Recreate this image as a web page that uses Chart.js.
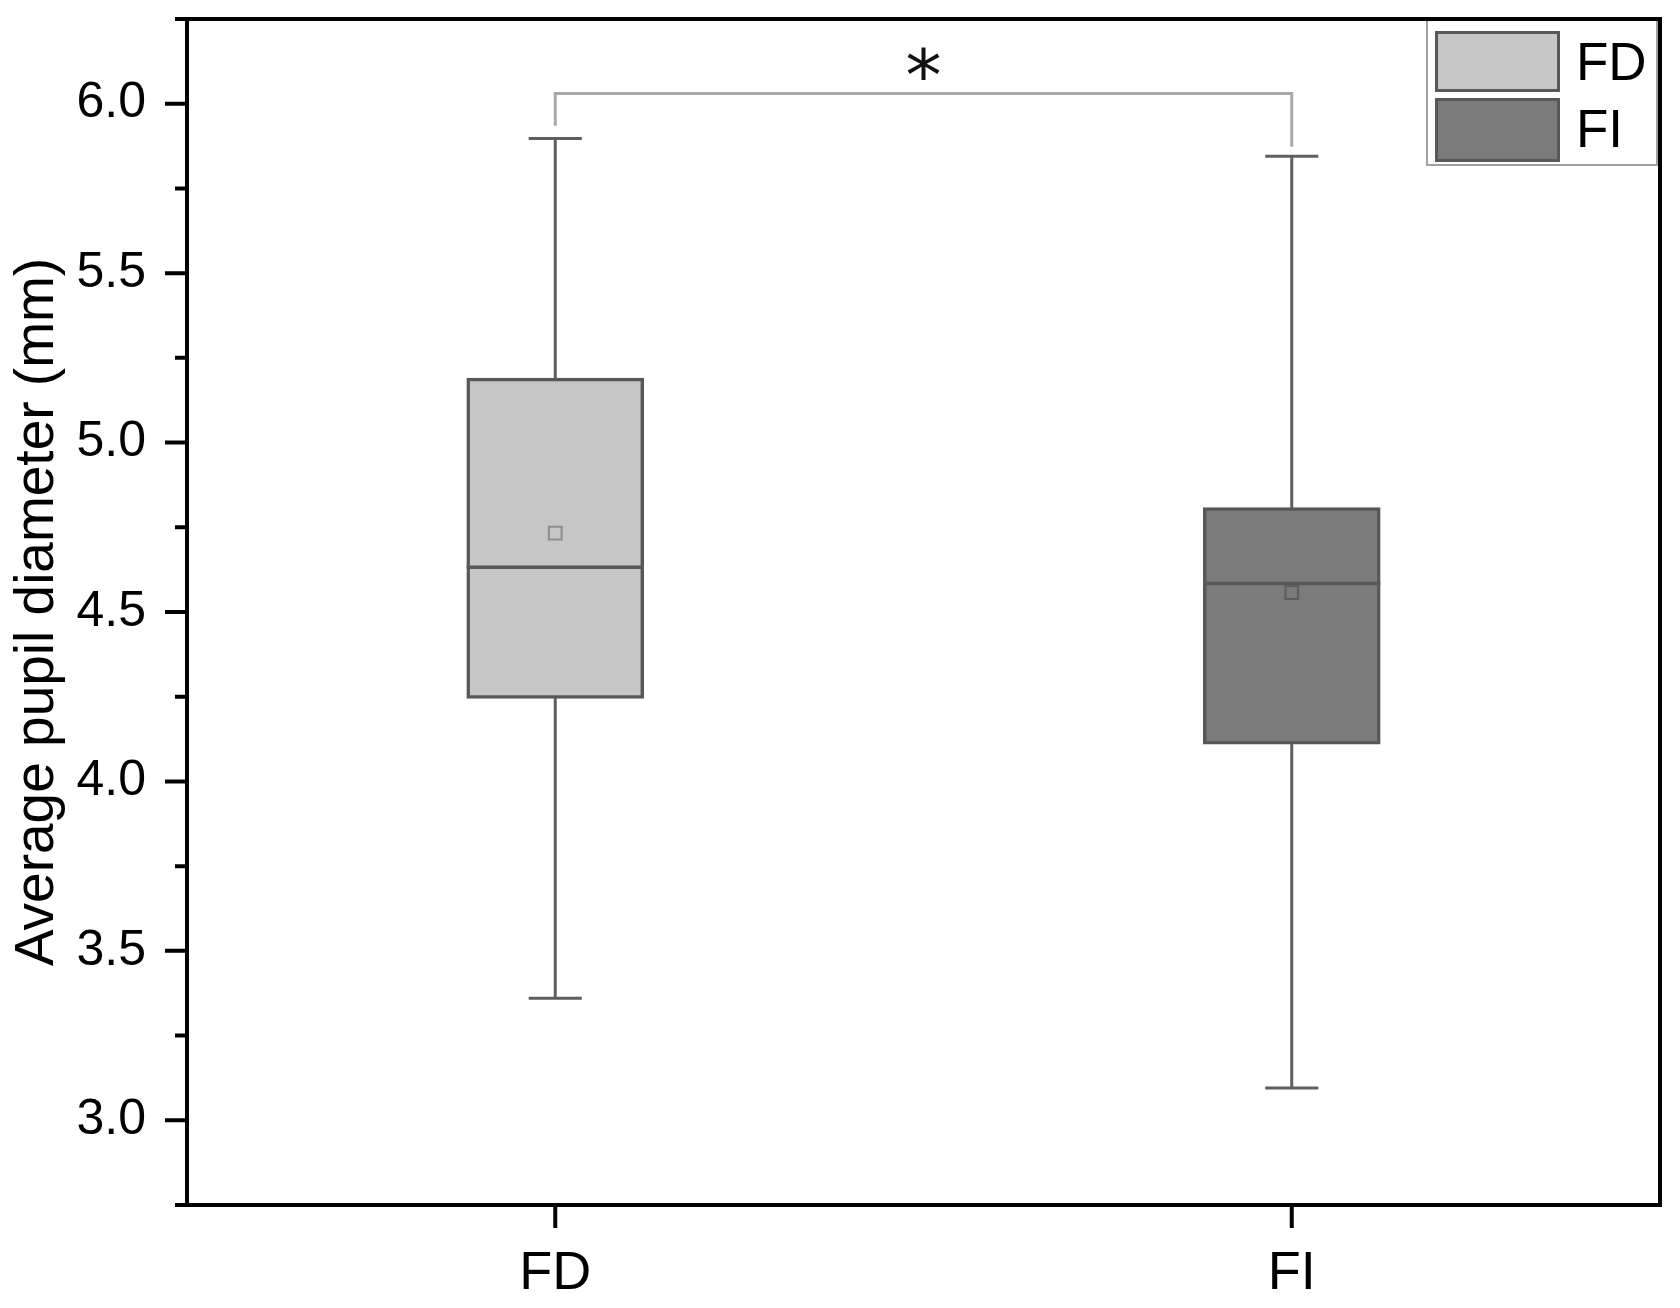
<!DOCTYPE html>
<html>
<head>
<meta charset="utf-8">
<script src="https://cdn.jsdelivr.net/npm/chart.js@4.4.1/dist/chart.umd.min.js"></script>
<style>
html,body{margin:0;padding:0;background:#fff;}
#wrap{width:1680px;height:1308px;position:relative;}
</style>
</head>
<body>
<div id="wrap"><canvas id="c" width="1680" height="1308"></canvas></div>
<script>
// ---- data ----
const categories = ['FD', 'FI'];
const seriesNames = ['FD', 'FI'];
const whiskerMin = [3.36, 3.095];
const q1 = [4.245, 4.11];
const median = [4.632, 4.584];
const q3 = [5.19, 4.808];
const whiskerMax = [5.897, 5.845];
const mean = [4.733, 4.557];
const yTickLabels = ['3.0', '3.5', '4.0', '4.5', '5.0', '5.5', '6.0'];
const yMin = 2.75;
const yMax = 6.25;
const yStep = 0.25;
const sigLabel = '*';
const sigBracketTop = 6.03;
const sigBracketEnds = [5.935, 5.873];

// ---- styles ----
const FONT = "'Liberation Sans', Arial, sans-serif";
const fills = ['#c6c6c6', '#7b7b7b'];
const edge = '#585858';
const whiskerColor = '#5f5f5f';
const meanColors = ['#8e8e8e', '#5c5c5c'];

const boxExtras = {
  id: 'boxExtras',
  beforeDatasetsDraw(chart) {
    const {ctx, scales: {x, y}} = chart;
    ctx.save();
    ctx.strokeStyle = whiskerColor;
    ctx.lineWidth = 3;
    categories.forEach((c, i) => {
      const px = x.getPixelForValue(i);
      const el = chart.getDatasetMeta(i).data[i];
      const capHalf = el ? el.width * 0.15 : 27;
      const yLo = y.getPixelForValue(whiskerMin[i]);
      const yHi = y.getPixelForValue(whiskerMax[i]);
      ctx.beginPath();
      ctx.moveTo(px, yLo); ctx.lineTo(px, yHi);
      ctx.moveTo(px - capHalf, yLo); ctx.lineTo(px + capHalf, yLo);
      ctx.moveTo(px - capHalf, yHi); ctx.lineTo(px + capHalf, yHi);
      ctx.stroke();
    });
    ctx.restore();
  },
  afterDatasetDraw(chart, args) {
    const i = args.index;
    if (i > 1) return;
    const el = args.meta.data[i];
    if (!el) return;
    const {ctx, scales: {y}} = chart;
    const py = y.getPixelForValue(median[i]);
    ctx.save();
    ctx.strokeStyle = edge;
    ctx.lineWidth = 3.5;
    ctx.beginPath();
    ctx.moveTo(el.x - el.width / 2, py);
    ctx.lineTo(el.x + el.width / 2, py);
    ctx.stroke();
    ctx.restore();
  },
  afterDraw(chart) {
    const {ctx, chartArea: a, scales: {x, y}} = chart;
    ctx.save();
    // significance bracket
    const x0 = x.getPixelForValue(0), x1 = x.getPixelForValue(1);
    const yt = y.getPixelForValue(sigBracketTop);
    ctx.strokeStyle = '#a9a9a9';
    ctx.lineWidth = 3;
    ctx.beginPath();
    ctx.moveTo(x0, y.getPixelForValue(sigBracketEnds[0]));
    ctx.lineTo(x0, yt);
    ctx.lineTo(x1, yt);
    ctx.lineTo(x1, y.getPixelForValue(sigBracketEnds[1]));
    ctx.stroke();
    ctx.fillStyle = '#111';
    ctx.font = "72px 'DejaVu Sans'";
    ctx.textAlign = 'center';
    ctx.textBaseline = 'alphabetic';
    ctx.fillText(sigLabel, (x0 + x1) / 2, yt + 6);

    // legend
    const lg = {l: 1427, t: 20, r: 1657, b: 165};
    ctx.fillStyle = '#fff';
    ctx.fillRect(lg.l, lg.t, lg.r - lg.l, lg.b - lg.t);
    ctx.strokeStyle = '#a0a0a0';
    ctx.lineWidth = 2;
    ctx.strokeRect(lg.l, lg.t, lg.r - lg.l, lg.b - lg.t);
    const sw = [[31, 92, 80], [98, 162, 147]];
    chart.data.datasets.slice(0, 2).forEach((ds, k) => {
      ctx.fillStyle = ds.backgroundColor;
      ctx.fillRect(1435, sw[k][0], 125, sw[k][1] - sw[k][0]);
      ctx.strokeStyle = ds.borderColor;
      ctx.lineWidth = 3;
      ctx.strokeRect(1435 + 1.5, sw[k][0] + 1.5, 122, sw[k][1] - sw[k][0] - 3);
      ctx.fillStyle = '#000';
      ctx.font = '53px ' + FONT;
      ctx.textAlign = 'left';
      ctx.textBaseline = 'alphabetic';
      ctx.fillText(ds.label, 1576, sw[k][2]);
    });

    // frame
    ctx.strokeStyle = '#000';
    ctx.lineWidth = 4;
    ctx.strokeRect(a.left, a.top, a.right - a.left, a.bottom - a.top);
    // y ticks
    ctx.beginPath();
    y.ticks.forEach(t => {
      const py = y.getPixelForValue(t.value);
      const major = yTickLabels.some(s => Math.abs(parseFloat(s) - t.value) < 1e-6);
      const len = major ? 22 : 12;
      ctx.moveTo(a.left - len, py); ctx.lineTo(a.left, py);
    });
    categories.forEach((c, i) => {
      const px = x.getPixelForValue(i);
      ctx.moveTo(px, a.bottom); ctx.lineTo(px, a.bottom + 23);
    });
    ctx.stroke();
    ctx.restore();
  }
};

new Chart(document.getElementById('c'), {
  type: 'bar',
  data: {
    labels: categories,
    datasets: [
      ...seriesNames.map((name, k) => ({
        type: 'bar',
        label: name,
        data: categories.map((c, i) => i === k ? [q1[i], q3[i]] : null),
        backgroundColor: fills[k],
        borderColor: edge,
        borderWidth: 3.5,
        borderSkipped: false,
        barThickness: 177,
        grouped: false,
        order: 2
      })),
      {
        type: 'line',
        label: 'Mean',
        data: mean,
        showLine: false,
        pointStyle: 'rect',
        pointRadius: 9,
        pointBorderWidth: 2,
        pointBackgroundColor: 'rgba(0,0,0,0)',
        pointBorderColor: meanColors,
        order: 0
      }
    ]
  },
  options: {
    responsive: false,
    devicePixelRatio: 1,
    animation: false,
    layout: {padding: {left: 0, right: 20, top: 19, bottom: 0}},
    plugins: {legend: {display: false}, tooltip: {enabled: false}},
    scales: {
      x: {
        type: 'category',
        offset: true,
        grid: {display: false, drawTicks: false},
        border: {display: false},
        ticks: {font: {family: FONT, size: 54}, color: '#000', padding: 37},
        afterFit(s) { s.height = 103; s.paddingLeft = 0; s.paddingRight = 0; }
      },
      y: {
        type: 'linear',
        min: yMin,
        max: yMax,
        grid: {display: false, drawTicks: false},
        border: {display: false},
        ticks: {
          stepSize: yStep,
          autoSkip: false,
          font: {family: FONT, size: 50},
          color: '#000',
          padding: 41,
          callback: v => yTickLabels.find(s => Math.abs(parseFloat(s) - v) < 1e-6) || ''
        },
        title: {
          display: true,
          text: 'Average pupil diameter (mm)',
          font: {family: FONT, size: 55, lineHeight: 1},
          color: '#000',
          padding: {top: 10, bottom: 0}
        },
        afterFit(s) { s.width = 187; s.paddingTop = 0; s.paddingBottom = 0; }
      }
    }
  },
  plugins: [boxExtras]
});
</script>
</body>
</html>
